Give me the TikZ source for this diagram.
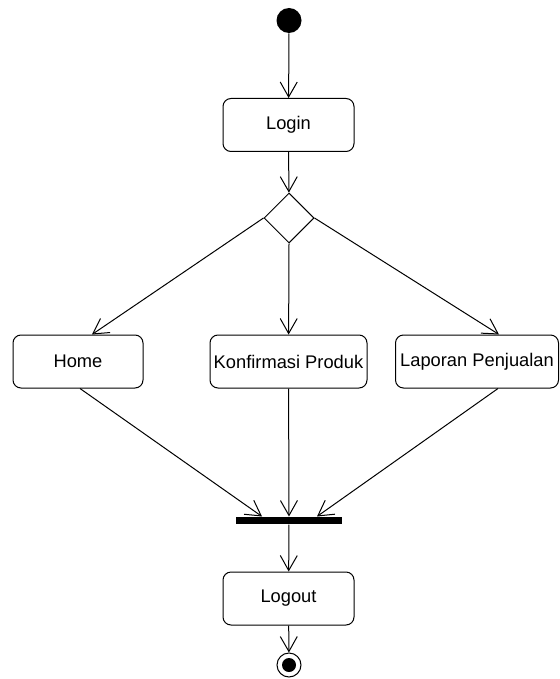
\documentclass[tikz,border=0pt]{standalone}
\usepackage{fontspec}
\setmainfont{Liberation Sans}
\usetikzlibrary{arrows.meta,shapes.geometric,calc}
\begin{document}
\begin{tikzpicture}[x=1pt,y=-1pt,
  line width=1pt,
  act/.style={draw, rounded corners=8pt, minimum height=53pt, inner sep=0pt,
              font=\fontsize{18.3}{21}\selectfont},
  flow/.style={-{Straight Barb[length=15pt,width=17pt]}},
  dot/.style={circle, fill, inner sep=0pt},
]
\useasboundingbox (0,0) rectangle (559,679);
% nodes
\node[dot, minimum size=25pt] (start) at (289,20.5) {};
\node[act, minimum width=131pt] (login) at (288.5,125) {Login};
\node[diamond, draw, minimum width=50pt, minimum height=50pt, inner sep=0pt] (dec) at (289,218) {};
\node[act, minimum width=130pt] (home) at (78,361.5) {Home};
\node[act, minimum width=157pt] (konf) at (288.5,361.5) {Konfirmasi Produk};
\node[act, minimum width=163pt] (lap) at (477,361.5) {Laporan Penjualan};
\node[fill, minimum width=106pt, minimum height=7pt, inner sep=0pt] (join) at (289,520.5) {};
\node[act, minimum width=131pt] (logout) at (288.5,598.5) {Logout};
\node[circle, draw, minimum size=24pt, inner sep=0pt] (end) at (289,665) {};
\node[dot, minimum size=14pt] (endc) at (end) {};
% flows
\draw[flow] (start) -- (login);
\draw[flow] (login) -- (dec);
\draw[flow] (dec.west) -- ($(home.north)+(14,0)$);
\draw[flow] (dec.south) -- (konf);
\draw[flow] (dec.east) -- ($(lap.north)+(22,0)$);
\draw[flow] ($(home.south)+(2,0)$) -- ($(join.north)+(-27,0)$);
\draw[flow] (konf) -- (join);
\draw[flow] ($(lap.south)+(21,0)$) -- ($(join.north)+(28,0)$);
\draw[flow] (join) -- (logout);
\draw[flow] (logout) -- (end);
\end{tikzpicture}
\end{document}
